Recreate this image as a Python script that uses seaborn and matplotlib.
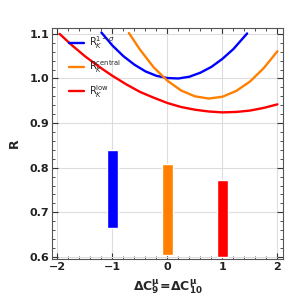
import matplotlib
matplotlib.use("Agg")
import matplotlib.pyplot as plt
from matplotlib.ticker import MultipleLocator
import pandas as pd
import seaborn as sns

sns.set_style("ticks")
plt.rcParams['font.family'] = ['DejaVu Sans']

# curves
blue_x = [-1.2, -1.0, -0.8, -0.6, -0.4, -0.2, 0.0, 0.2, 0.4, 0.6, 0.8, 1.0, 1.2, 1.45]
blue_y = [1.103, 1.074, 1.050, 1.031, 1.016, 1.006, 1.001, 1.000, 1.004, 1.013, 1.026, 1.044, 1.066, 1.101]

orange_x = [-0.7, -0.5, -0.25, 0.0, 0.25, 0.5, 0.75, 1.0, 1.25, 1.5, 1.75, 2.0]
orange_y = [1.102, 1.065, 1.025, 0.995, 0.973, 0.960, 0.955, 0.959, 0.972, 0.993, 1.023, 1.061]

red_x = [-1.96, -1.75, -1.5, -1.25, -1.0, -0.75, -0.5, -0.25, 0.0, 0.25, 0.5, 0.75, 1.0, 1.25, 1.5, 1.75, 2.0]
red_y = [1.100, 1.076, 1.050, 1.027, 1.006, 0.987, 0.970, 0.957, 0.945, 0.936, 0.930, 0.926, 0.924, 0.925, 0.928, 0.934, 0.942]

# vertical bands (x position, low, high)
band_x = [-1, 0, 1]
band_lo = [0.665, 0.605, 0.600]
band_hi = [0.840, 0.808, 0.772]

labels = [r'$\mathrm{R}_K^{1-\sigma}$', r'$\mathrm{R}_K^{\mathrm{central}}$', r'$\mathrm{R}_K^{\mathrm{low}}$']
colors = ['#0000ff', '#ff8000', '#ff0000']

fig = plt.figure(figsize=(3.0, 3.02), dpi=100)
ax = fig.add_axes([0.173, 0.142, 0.77, 0.765])

curves = pd.concat([
    pd.DataFrame({'x': blue_x, 'y': blue_y, 'set': labels[0]}),
    pd.DataFrame({'x': orange_x, 'y': orange_y, 'set': labels[1]}),
    pd.DataFrame({'x': red_x, 'y': red_y, 'set': labels[2]}),
])
sns.lineplot(data=curves, x='x', y='y', hue='set', palette=colors, lw=1.7,
             sort=False, estimator=None, ax=ax)

ax.bar(band_x, [h - l for h, l in zip(band_hi, band_lo)], bottom=band_lo,
       width=0.2, color=colors, zorder=3)

ax.set_xlim(-2.1, 2.1)
ax.set_ylim(0.595, 1.113)
ax.xaxis.set_minor_locator(MultipleLocator(0.2))
ax.yaxis.set_minor_locator(MultipleLocator(0.02))
ax.set_xticks([-2, -1, 0, 1, 2])
ax.set_xticklabels(['\u22122', '\u22121', '0', '1', '2'])
ax.set_yticks([0.6, 0.7, 0.8, 0.9, 1.0, 1.1])
ax.set_yticklabels(['0.6', '0.7', '0.8', '0.9', '1.0', '1.1'])

ax.grid(True, which='major', color='#dddddd', lw=0.8)
ax.set_axisbelow(True)
for s in ax.spines.values():
    s.set_color('#555555')
    s.set_linewidth(0.8)
ax.tick_params(which='both', direction='in', top=True, right=True, color='#333333')
ax.tick_params(which='major', length=4, width=0.8, labelsize=8, pad=2)
ax.tick_params(which='minor', length=2, width=0.6)
for t in ax.get_xticklabels() + ax.get_yticklabels():
    t.set_fontweight('bold')
    t.set_color('#222222')

ax.set_xlabel(r'$\mathbf{\Delta C_9^{\mu}\!=\!\Delta C_{10}^{\mu}}$', fontsize=9, labelpad=4)
ax.set_ylabel('R', fontsize=9, fontweight='bold', labelpad=6)

ax.legend(loc='upper left', bbox_to_anchor=(0.035, 1.01), frameon=False, fontsize=7,
          handlelength=1.6, labelspacing=0.75, handletextpad=0.5, title=None)

fig.savefig('out.png', dpi=100)
